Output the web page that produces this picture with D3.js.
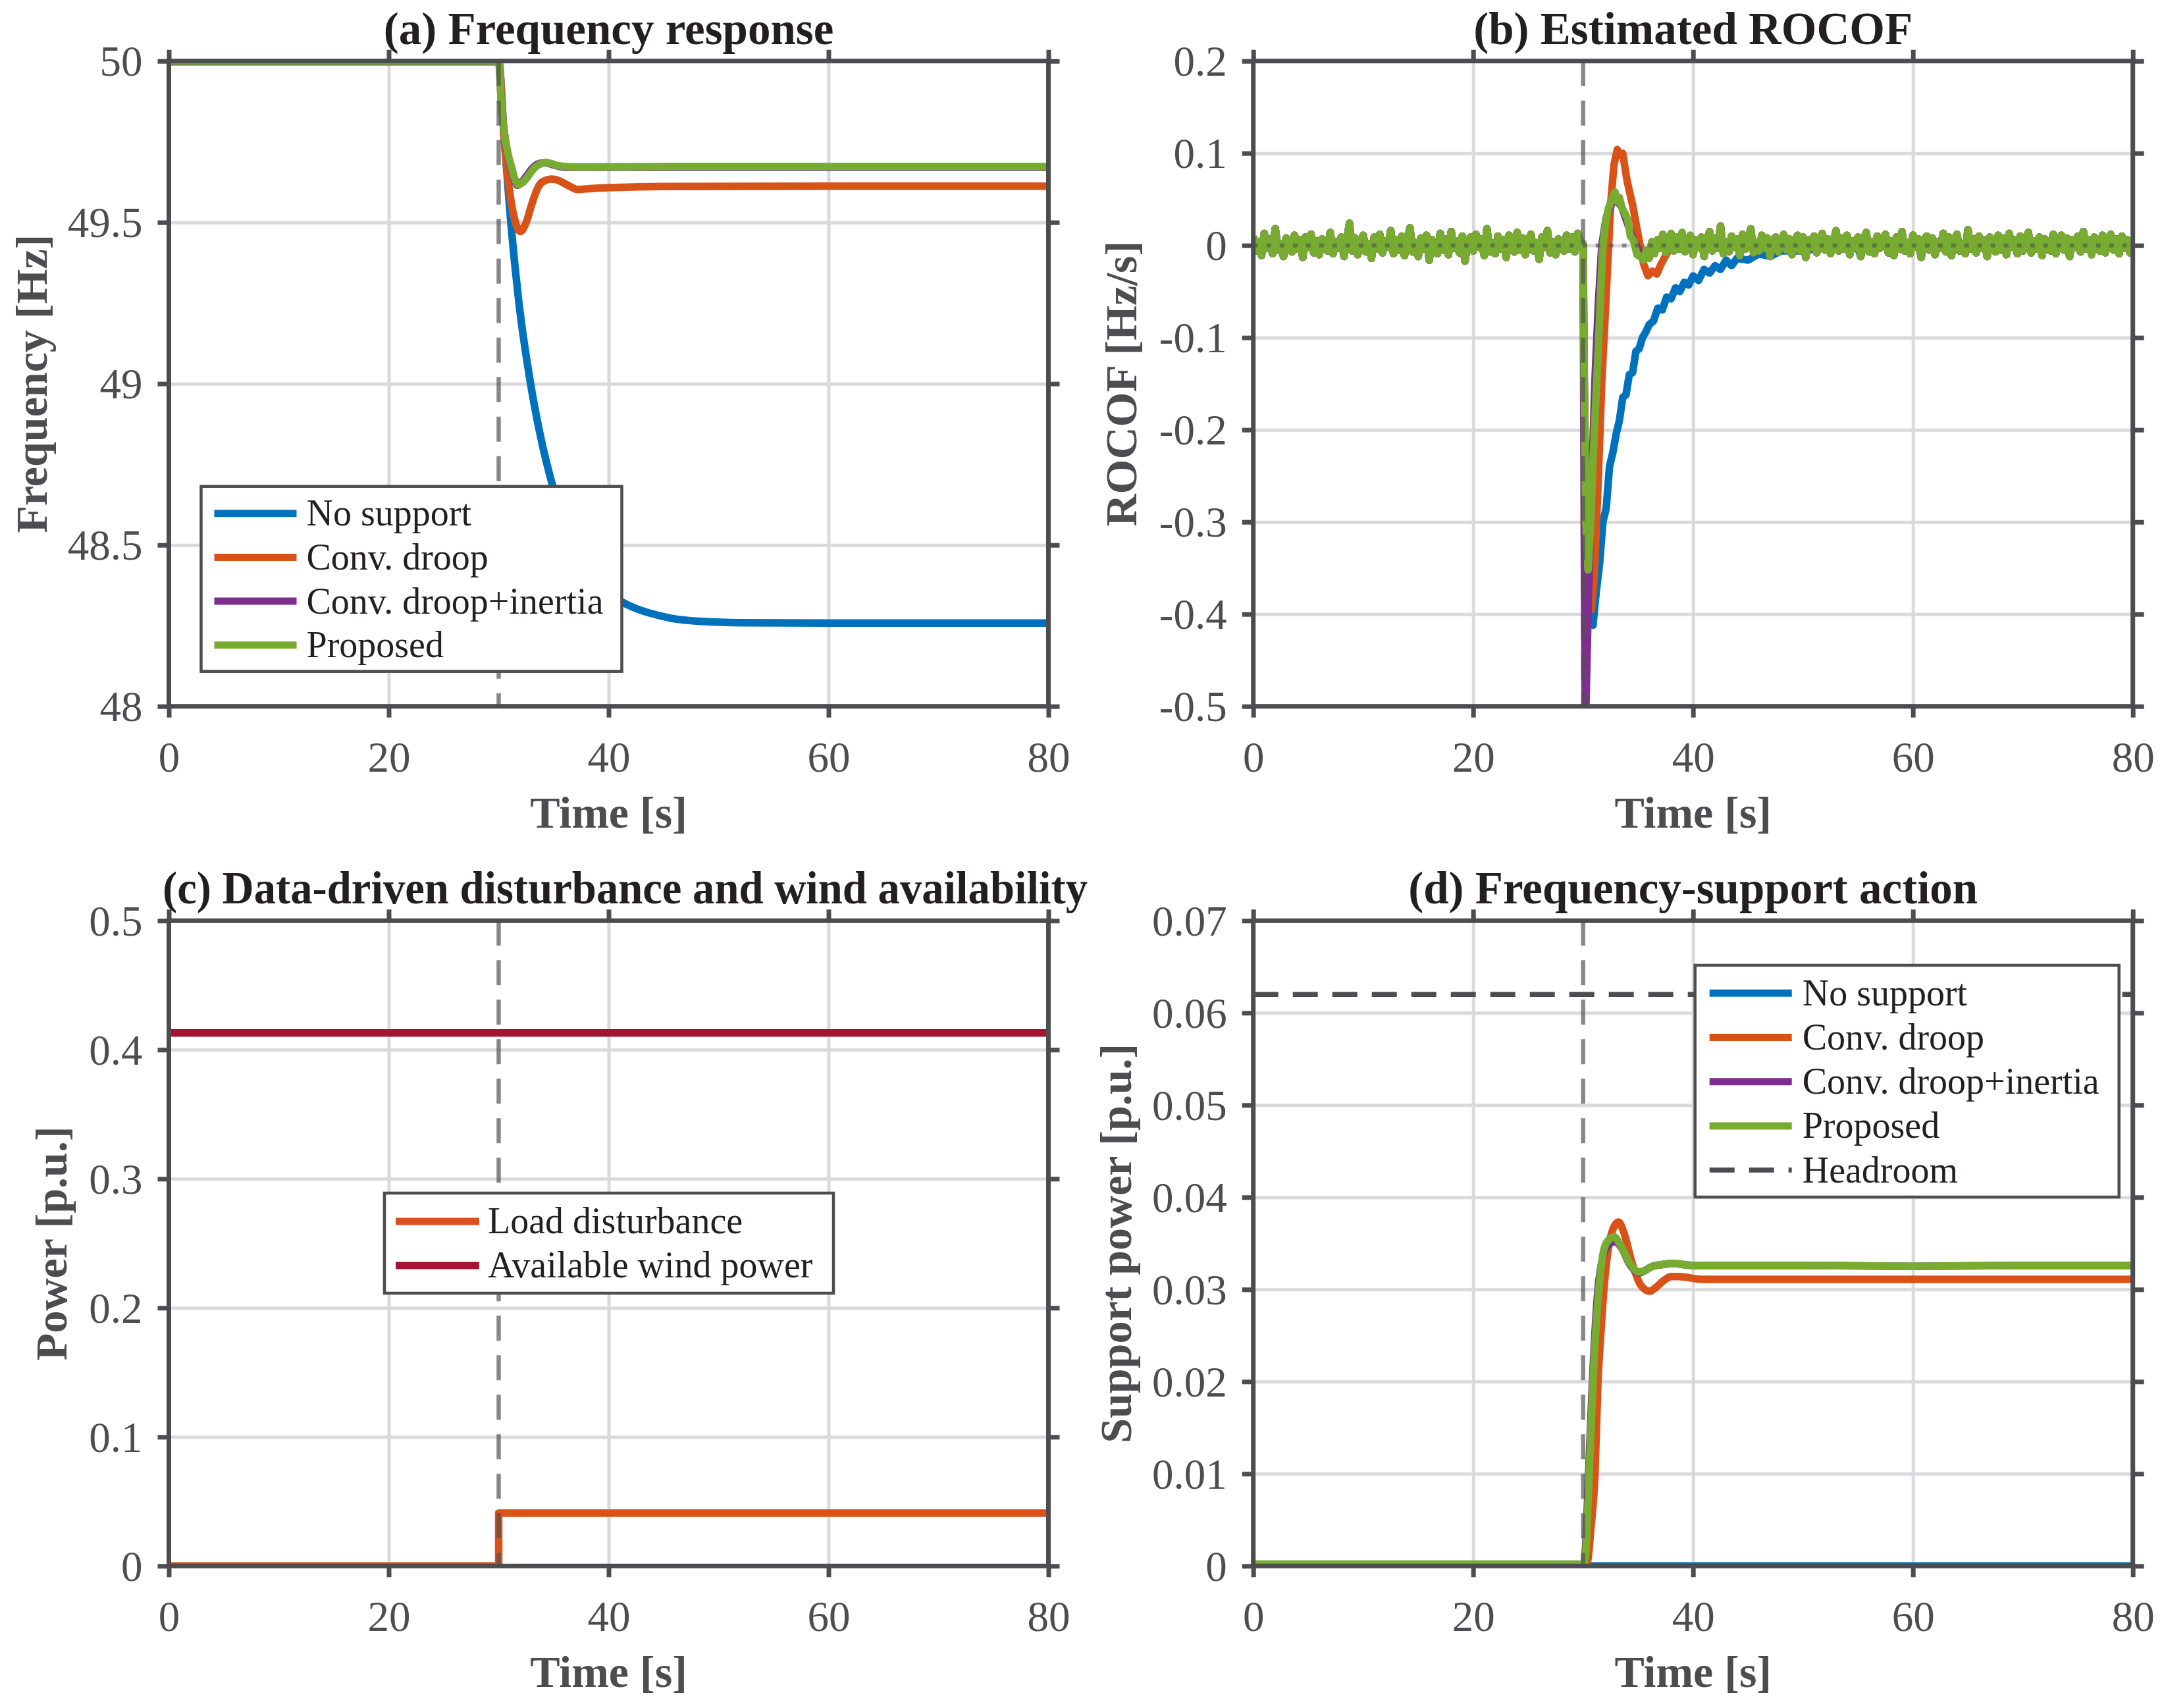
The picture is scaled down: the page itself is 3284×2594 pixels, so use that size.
<!DOCTYPE html>
<html>
<head>
<meta charset="utf-8">
<script src="https://cdn.jsdelivr.net/npm/d3@7"></script>
<style>
  html, body { margin: 0; padding: 0; background: #fff; }
  svg { display: block; }
</style>
</head>
<body>
<div id="fig"></div>
<script>
const width = 3284;
const height = 2594;
const panelW = 1336;
const panelH = 980;

// ---- shared ----
const timeTicks = [0, 20, 40, 60, 80];
const timeTickLabels = ["0", "20", "40", "60", "80"];
const eventTime = 30;
const controlNames = ["No support", "Conv. droop", "Conv. droop+inertia", "Proposed"];

// ---- (a) frequency response [Hz] ----
const freqTicks = [48, 48.5, 49, 49.5, 50];
const freqTickLabels = ["48", "48.5", "49", "49.5", "50"];
const freqNoSupportT = [0, 30, 30.5, 31.1, 31.83, 32.9, 33.74, 34.9, 36, 37, 38, 39, 40, 41.4, 42.5, 44.5, 46, 48.5, 52, 60, 80];
const freqNoSupport = [50, 50, 49.76, 49.5, 49.254, 49.0, 48.847, 48.684, 48.565, 48.482, 48.422, 48.38, 48.35, 48.32, 48.303, 48.282, 48.271, 48.263, 48.259, 48.258, 48.258];
const freqDroopT = [0, 30, 30.5, 30.76, 31.36, 31.99, 32.5, 32.95, 33.35, 33.75, 34.25, 34.75, 35.25, 35.75, 36.45, 37.15, 38.55, 40.55, 45, 60, 80];
const freqDroop = [50, 50, 49.76, 49.66, 49.523, 49.472, 49.5, 49.55, 49.59, 49.618, 49.63, 49.634, 49.632, 49.625, 49.612, 49.602, 49.605, 49.608, 49.611, 49.612, 49.612];
const freqInertiaT = [0, 30, 30.26, 30.56, 30.86, 31.16, 31.46, 31.7, 32.1, 32.5, 33, 33.5, 34.2, 35, 36, 38, 80];
const freqInertia = [49.998, 49.998, 49.86, 49.765, 49.705, 49.665, 49.628, 49.615, 49.625, 49.642, 49.665, 49.68, 49.685, 49.678, 49.671, 49.671, 49.671];
const freqProposedT = [0, 30, 30.26, 30.56, 30.86, 31.16, 31.46, 31.76, 32.16, 32.56, 32.96, 33.36, 33.8, 34.26, 34.8, 35.36, 36.56, 38.56, 45, 60, 80];
const freqProposed = [50, 50, 49.862, 49.767, 49.71, 49.673, 49.635, 49.617, 49.623, 49.638, 49.657, 49.672, 49.681, 49.686, 49.682, 49.676, 49.672, 49.672, 49.673, 49.673, 49.673];

// ---- (b) estimated ROCOF [Hz/s] ----
const rocofTicks = [-0.5, -0.4, -0.3, -0.2, -0.1, 0, 0.1, 0.2];
const rocofTickLabels = ["-0.5", "-0.4", "-0.3", "-0.2", "-0.1", "0", "0.1", "0.2"];
const noiseStep = 0.25;
// measurement noise before the event, t = 0 ... 29.75 s
const rocofNoisePre = [
  0.010, -0.006, 0.004, -0.011, 0.013, -0.003, 0.007, -0.009, 0.018, -0.005,
  0.002, -0.012, 0.008, 0.003, -0.007, 0.011, -0.004, 0.006, -0.013, 0.009,
  -0.002, 0.012, -0.008, 0.005, -0.010, 0.007, 0.001, -0.006, 0.014, -0.009,
  0.004, -0.003, 0.009, -0.012, 0.006, 0.024, -0.006, 0.008, -0.010, 0.003,
  0.011, -0.007, 0.002, -0.014, 0.009, -0.004, 0.012, -0.008, 0.005, -0.002,
  0.016, -0.009, 0.006, -0.005, 0.010, -0.011, 0.004, 0.019, -0.007, 0.003,
  -0.012, 0.008, -0.004, 0.011, -0.016, 0.006, 0.002, -0.009, 0.013, -0.005,
  0.007, -0.010, 0.015, -0.003, 0.005, -0.008, 0.010, -0.017, 0.004, 0.009,
  -0.006, 0.012, -0.002, 0.007, -0.011, 0.018, -0.007, 0.003, -0.009, 0.010,
  -0.004, 0.006, -0.013, 0.011, 0.002, -0.007, 0.014, -0.005, 0.008, -0.010,
  0.005, 0.012, -0.006, 0.003, -0.015, 0.009, -0.002, 0.016, -0.008, 0.004,
  -0.010, 0.007, 0.001, -0.006, 0.011, -0.004, 0.009, -0.007, 0.013, 0.004];
// measurement noise after the transient, t = 36 ... 80 s
const rocofNoisePostStart = 36;
const rocofNoisePost = [
  -0.014, 0.004, -0.009, 0.006, -0.003, 0.012, -0.008, 0.002, 0.013, -0.006,
  0.009, -0.004, 0.014, -0.007, 0.003, 0.011, -0.010, 0.006, -0.002, 0.009,
  -0.012, 0.005, 0.015, -0.006, 0.008, -0.003, 0.021, -0.009, 0.004, -0.007,
  0.010, -0.002, 0.007, -0.011, 0.012, -0.004, 0.006, 0.018, -0.008, 0.003,
  -0.006, 0.011, -0.003, 0.008, -0.012, 0.005, 0.009, -0.007, 0.002, 0.012,
  -0.005, 0.007, -0.010, 0.004, 0.011, -0.006, 0.009, -0.013, 0.006, -0.002,
  0.010, -0.008, 0.004, 0.013, -0.005, 0.007, -0.009, 0.003, 0.016, -0.006,
  0.008, -0.004, 0.011, -0.010, 0.005, -0.002, 0.009, -0.012, 0.006, 0.014,
  -0.007, 0.004, -0.009, 0.010, -0.003, 0.007, 0.012, -0.008, 0.005, -0.011,
  0.009, -0.004, 0.015, -0.006, 0.003, -0.009, 0.011, -0.002, 0.007, -0.013,
  0.006, 0.010, -0.005, 0.008, -0.010, 0.004, -0.003, 0.013, -0.007, 0.009,
  -0.011, 0.005, 0.012, -0.006, 0.002, -0.009, 0.017, -0.004, 0.007, -0.008,
  0.010, -0.003, 0.006, -0.012, 0.009, 0.004, -0.007, 0.011, -0.005, 0.008,
  -0.010, 0.013, -0.002, 0.006, -0.009, 0.010, -0.006, 0.003, 0.014, -0.008,
  0.005, -0.004, 0.009, -0.011, 0.007, 0.002, -0.006, 0.012, -0.009, 0.004,
  0.011, -0.005, 0.008, -0.012, 0.006, -0.002, 0.010, -0.007, 0.015, -0.004,
  0.006, -0.010, 0.009, 0.003, -0.006, 0.011, -0.008, 0.004, 0.012, -0.005,
  0.007, -0.009, 0.010, -0.003, 0.006, -0.008, 0.004];
const rocofNoSupportT = [30, 30.15, 30.5, 30.9, 31.2, 31.5, 31.8, 32.1, 32.4, 32.7, 33, 33.3, 33.6, 33.9, 34.2, 34.5, 34.8, 35.1, 35.4, 35.7, 36, 36.4, 36.8, 37.2, 37.6, 38, 38.4, 38.8, 39.2, 39.6, 40, 40.5, 41, 41.5, 42, 42.5, 43, 43.5, 44, 45, 46, 47, 48, 50, 52, 55];
const rocofNoSupport = [0, -0.2, -0.38, -0.412, -0.375, -0.345, -0.3, -0.285, -0.24, -0.225, -0.205, -0.19, -0.165, -0.162, -0.14, -0.138, -0.115, -0.112, -0.1, -0.094, -0.086, -0.082, -0.068, -0.07, -0.056, -0.058, -0.046, -0.05, -0.04, -0.043, -0.033, -0.038, -0.026, -0.03, -0.022, -0.026, -0.016, -0.022, -0.014, -0.016, -0.009, -0.012, -0.006, -0.006, -0.002, -0.003];
const rocofDroopT = [30, 30.1, 30.3, 30.55, 30.75, 31, 31.3, 31.7, 32.1, 32.5, 32.8, 33.1, 33.3, 33.6, 34, 34.5, 34.9, 35.5, 35.9, 36.3, 36.7, 37.1, 37.7, 38.7, 39.7];
const rocofDroop = [0, -0.15, -0.3, -0.37, -0.395, -0.36, -0.277, -0.148, -0.054, 0.044, 0.087, 0.104, 0.098, 0.1, 0.07, 0.044, 0.018, -0.02, -0.033, -0.028, -0.031, -0.02, -0.007, 0.005, 0.008];
const rocofInertiaT = [30, 30.1, 30.2, 30.35, 30.55, 30.8, 31.1, 31.4, 31.7, 32.1, 32.6, 33, 33.5, 34, 34.6, 35.2];
const rocofInertia = [0, -0.3, -0.53, -0.45, -0.35, -0.25, -0.14, -0.06, 0, 0.03, 0.045, 0.05, 0.042, 0.025, 0.005, -0.008];
const rocofProposedT = [30, 30.1, 30.25, 30.45, 30.7, 30.9, 31.15, 31.4, 31.6, 31.8, 32.05, 32.3, 32.6, 32.9, 33.1, 33.3, 33.55, 33.8, 34.05, 34.3, 34.6, 34.9, 35.2, 35.5, 35.75];
const rocofProposed = [0.002, -0.15, -0.3, -0.352, -0.3, -0.234, -0.17, -0.106, -0.05, 0, 0.025, 0.04, 0.05, 0.058, 0.048, 0.052, 0.04, 0.035, 0.028, 0.01, 0.005, -0.01, -0.012, -0.016, -0.005];

// ---- (c) disturbance and wind availability [p.u.] ----
const powerTicks = [0, 0.1, 0.2, 0.3, 0.4, 0.5];
const powerTickLabels = ["0", "0.1", "0.2", "0.3", "0.4", "0.5"];
const loadT = [0, 30, 30, 80];
const loadDisturbance = [0, 0, 0.041, 0.041];
const windT = [0, 80];
const windAvailable = [0.413, 0.413];

// ---- (d) frequency-support action [p.u.] ----
const supportTicks = [0, 0.01, 0.02, 0.03, 0.04, 0.05, 0.06, 0.07];
const supportTickLabels = ["0", "0.01", "0.02", "0.03", "0.04", "0.05", "0.06", "0.07"];
const supNoSupportT = [0, 80];
const supNoSupport = [0, 0];
const supDroopT = [0, 30.2, 30.41, 30.7, 31.08, 31.35, 31.6, 31.89, 32.3, 32.7, 33.22, 33.7, 34.42, 35.22, 36.07, 36.6, 37.37, 38, 38.7, 40.84, 50, 60, 80];
const supDroop = [0, 0, 0.0005, 0.004, 0.01, 0.02, 0.025, 0.03, 0.0345, 0.0365, 0.0373, 0.0362, 0.033, 0.0305, 0.0298, 0.0302, 0.031, 0.0314, 0.0314, 0.0311, 0.0311, 0.0311, 0.0311];
const supInertiaT = [0, 30, 30.15, 30.5, 30.85, 31.35, 31.8, 32.3, 32.9, 33.5, 34.2, 35.1, 36.3, 37.2, 38.2, 40, 50, 60, 70, 80];
const supInertia = [0, 0, 0.0008, 0.01, 0.02, 0.03, 0.0335, 0.0348, 0.0352, 0.0345, 0.0328, 0.0318, 0.0325, 0.0327, 0.0328, 0.0326, 0.0326, 0.0325, 0.0326, 0.0326];
const supProposedT = [0, 29.9, 30.15, 30.35, 30.55, 30.9, 31.43, 31.8, 32.2, 32.82, 33.4, 34.16, 35.1, 35.7, 36.3, 37.2, 38.2, 40, 50, 60, 70, 80];
const supProposed = [0.0002, 0.0002, 0.0005, 0.004, 0.01, 0.02, 0.03, 0.0338, 0.0352, 0.0357, 0.0348, 0.033, 0.0319, 0.0321, 0.0325, 0.0327, 0.0328, 0.0326, 0.0326, 0.0325, 0.0326, 0.0326];
const headroom = 0.062;

// ---- style ----
const colors = ["#0072bd", "#d95319", "#7e2f8e", "#77ac30"];
const windColor = "#a2142f";
const axisColor = "#4d4d4f";
const gridColor = "#dadadc";
const textColor = "#231f20";
const serif = "'Liberation Serif', 'Times New Roman', Times, serif";
const lineW = 11.5;

const pts = (t, v) => d3.zip(t, v);

// ROCOF traces overlap in steady state, so they share the noise
const preNoise = rocofNoisePre.map((v, i) => [i * noiseStep, v]);
const postNoise = rocofNoisePost.map((v, i) => [rocofNoisePostStart + i * noiseStep, v]);
const rocofSeries = [
  preNoise.concat(pts(rocofNoSupportT, rocofNoSupport), postNoise.filter(d => d[0] > 55)),
  preNoise.concat(pts(rocofDroopT, rocofDroop), postNoise.filter(d => d[0] >= 40)),
  preNoise.concat(pts(rocofInertiaT, rocofInertia), postNoise),
  preNoise.concat(pts(rocofProposedT, rocofProposed), postNoise)
];

const svg = d3.select("#fig").append("svg")
  .attr("width", width).attr("height", height)
  .attr("viewBox", [0, 0, width, height])
  .style("font-family", serif);

svg.append("rect").attr("width", width).attr("height", height).attr("fill", "#fff");

function drawPanel(cfg) {
  const g = svg.append("g").attr("transform", `translate(${cfg.left},${cfg.top})`);
  const x = d3.scaleLinear().domain([0, 80]).range([0, panelW]);
  const y = d3.scaleLinear().domain(cfg.yDomain).range([panelH, 0]);

  // grid
  const gx = g.append("g").call(d3.axisBottom(x).tickValues(timeTicks).tickSize(panelH).tickFormat(""));
  const gy = g.append("g").call(d3.axisRight(y).tickValues(cfg.yTicks).tickSize(panelW).tickFormat(""));
  [gx, gy].forEach(a => {
    a.select(".domain").remove();
    a.selectAll("line").attr("stroke", gridColor).attr("stroke-width", 5);
  });

  // data
  const clipId = "clip-" + cfg.id;
  g.append("clipPath").attr("id", clipId)
    .append("rect").attr("width", panelW).attr("height", panelH);
  const plot = g.append("g").attr("clip-path", `url(#${clipId})`);
  cfg.series.forEach(s => {
    const line = d3.line().x(d => x(d[0])).y(d => y(d[1])).curve(s.curve || d3.curveLinear);
    plot.append("path")
      .datum(s.data)
      .attr("fill", "none")
      .attr("stroke", s.color)
      .attr("stroke-width", lineW)
      .attr("stroke-linejoin", "round")
      .attr("d", line);
  });

  // event marker
  g.append("line")
    .attr("x1", x(eventTime)).attr("x2", x(eventTime))
    .attr("y1", 0).attr("y2", panelH)
    .attr("stroke", "#505050").attr("stroke-opacity", 0.68)
    .attr("stroke-width", 6.5).attr("stroke-dasharray", "38,22");

  if (cfg.zeroLine) {
    g.append("line")
      .attr("x1", 0).attr("x2", panelW)
      .attr("y1", y(0)).attr("y2", y(0))
      .attr("stroke", "#505050").attr("stroke-opacity", 0.6)
      .attr("stroke-width", 6).attr("stroke-dasharray", "7,13");
  }
  if (cfg.headroom !== undefined) {
    g.append("line")
      .attr("x1", 0).attr("x2", panelW)
      .attr("y1", y(cfg.headroom)).attr("y2", y(cfg.headroom))
      .attr("stroke", axisColor).attr("stroke-width", 7.5)
      .attr("stroke-dasharray", "38,22");
  }

  // axes box and ticks
  g.append("rect").attr("width", panelW).attr("height", panelH)
    .attr("fill", "none").attr("stroke", axisColor).attr("stroke-width", 7);

  const fmt = (ticks, labels) => d => labels[ticks.indexOf(d)];
  const axB = g.append("g").attr("transform", `translate(0,${panelH})`)
    .call(d3.axisBottom(x).tickValues(timeTicks).tickSize(17).tickFormat(fmt(timeTicks, timeTickLabels)));
  axB.selectAll("text").attr("y", 99).attr("dy", null);
  const axL = g.append("g")
    .call(d3.axisLeft(y).tickValues(cfg.yTicks).tickSize(17).tickFormat(fmt(cfg.yTicks, cfg.yLabels)));
  axL.selectAll("text").attr("x", -40).attr("dy", "0.34em");
  const axT = g.append("g").call(d3.axisTop(x).tickValues(timeTicks).tickSize(17).tickFormat(""));
  const axR = g.append("g").attr("transform", `translate(${panelW},0)`)
    .call(d3.axisRight(y).tickValues(cfg.yTicks).tickSize(17).tickFormat(""));
  [axB, axL, axT, axR].forEach(a => {
    a.attr("font-family", serif);
    a.select(".domain").remove();
    a.selectAll("line").attr("stroke", axisColor).attr("stroke-width", 7);
    a.selectAll("text").attr("fill", axisColor).attr("font-size", 65).attr("font-family", serif);
  });

  // titles
  const title = g.append("text")
    .attr("x", panelW / 2 + (cfg.titleDx || 0)).attr("y", -26)
    .attr("text-anchor", "middle")
    .attr("font-size", 69).attr("font-weight", "bold").attr("fill", textColor)
    .text(cfg.title);
  if (cfg.titleLength) title.attr("textLength", cfg.titleLength).attr("lengthAdjust", "spacingAndGlyphs");
  g.append("text")
    .attr("x", panelW / 2).attr("y", panelH + 184)
    .attr("text-anchor", "middle")
    .attr("font-size", 68).attr("font-weight", "bold").attr("fill", axisColor)
    .text("Time [s]");
  g.append("text")
    .attr("transform", `translate(${cfg.yLabelX},${panelH / 2}) rotate(-90)`)
    .attr("text-anchor", "middle")
    .attr("font-size", 68).attr("font-weight", "bold").attr("fill", axisColor)
    .text(cfg.yTitle);

  // legend
  const L = cfg.legend;
  if (!L) return;
  const lg = g.append("g").attr("transform", `translate(${L.x},${L.y})`);
  lg.append("rect").attr("width", L.w).attr("height", L.h)
    .attr("fill", "#fff").attr("stroke", axisColor).attr("stroke-width", 4.5);
  L.items.forEach((it, i) => {
    const ry = L.pad + i * L.rowH;
    lg.append("line")
      .attr("x1", L.sx0).attr("x2", L.sx1).attr("y1", ry).attr("y2", ry)
      .attr("stroke", it.color)
      .attr("stroke-width", it.dash ? 7.5 : 11)
      .attr("stroke-dasharray", it.dash || null);
    lg.append("text")
      .attr("x", L.tx).attr("y", ry).attr("dy", "0.33em")
      .attr("font-size", 56).attr("fill", textColor)
      .text(it.name);
  });
}

const mono = d3.curveMonotoneX;

drawPanel({
  id: "a", left: 256.5, top: 92.7,
  title: "(a) Frequency response", yTitle: "Frequency [Hz]", yLabelX: -186,
  yDomain: [48, 50], yTicks: freqTicks, yLabels: freqTickLabels,
  series: [
    { data: pts(freqNoSupportT, freqNoSupport), color: colors[0], curve: mono },
    { data: pts(freqDroopT, freqDroop), color: colors[1], curve: mono },
    { data: pts(freqInertiaT, freqInertia), color: colors[2], curve: mono },
    { data: pts(freqProposedT, freqProposed), color: colors[3], curve: mono }
  ],
  legend: { x: 49, y: 646, w: 639, h: 281, pad: 41, rowH: 66.7, sx0: 20, sx1: 145, tx: 160,
    items: controlNames.map((n, i) => ({ name: n, color: colors[i] })) }
});

drawPanel({
  id: "b", left: 1903.7, top: 92.7,
  title: "(b) Estimated ROCOF", yTitle: "ROCOF [Hz/s]", yLabelX: -178,
  yDomain: [-0.5, 0.2], yTicks: rocofTicks, yLabels: rocofTickLabels, zeroLine: true,
  series: rocofSeries.map((s, i) => ({ data: s, color: colors[i] }))
});

drawPanel({
  id: "c", left: 256.5, top: 1398.3,
  title: "(c) Data-driven disturbance and wind availability", titleDx: 25, titleLength: 1405,
  yTitle: "Power [p.u.]", yLabelX: -156,
  yDomain: [0, 0.5], yTicks: powerTicks, yLabels: powerTickLabels,
  series: [
    { data: pts(loadT, loadDisturbance), color: colors[1] },
    { data: pts(windT, windAvailable), color: windColor }
  ],
  legend: { x: 327.5, y: 413.7, w: 682, h: 152, pad: 43, rowH: 67, sx0: 17, sx1: 144, tx: 157,
    items: [{ name: "Load disturbance", color: colors[1] }, { name: "Available wind power", color: windColor }] }
});

drawPanel({
  id: "d", left: 1903.7, top: 1398.3,
  title: "(d) Frequency-support action", yTitle: "Support power [p.u.]", yLabelX: -186,
  yDomain: [0, 0.07], yTicks: supportTicks, yLabels: supportTickLabels, headroom: headroom,
  series: [
    { data: pts(supNoSupportT, supNoSupport), color: colors[0], curve: mono },
    { data: pts(supDroopT, supDroop), color: colors[1], curve: mono },
    { data: pts(supInertiaT, supInertia), color: colors[2], curve: mono },
    { data: pts(supProposedT, supProposed), color: colors[3], curve: mono }
  ],
  legend: { x: 671, y: 67.7, w: 644, h: 352, pad: 42.3, rowH: 67.2, sx0: 22, sx1: 147, tx: 163,
    items: controlNames.map((n, i) => ({ name: n, color: colors[i] }))
      .concat([{ name: "Headroom", color: axisColor, dash: "38,22" }]) }
});
</script>
</body>
</html>
